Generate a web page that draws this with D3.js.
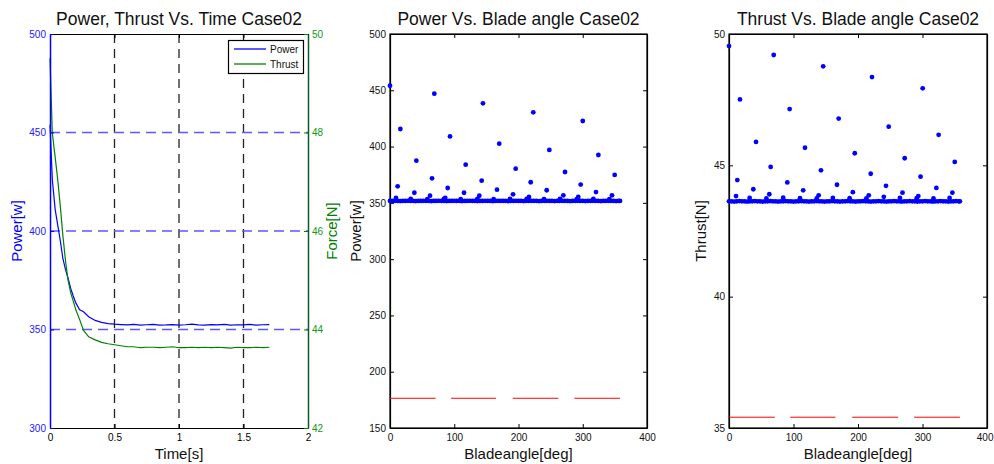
<!DOCTYPE html>
<html><head><meta charset="utf-8">
<script src="https://cdn.jsdelivr.net/npm/d3@7"></script>
<style>body{margin:0;background:#fff} svg{display:block} text{font-family:"Liberation Sans",Arial,Helvetica,sans-serif}</style>
</head><body><svg id="c" width="994" height="464"></svg>
<script>
// ---------- Panel 1 data (time series) ----------
const timeS   = [0,0.018,0.04,0.06,0.08,0.1,0.12,0.14,0.16,0.18,0.2,0.23,0.26,0.3,0.35,0.4,0.45,0.5,0.55,0.6,0.65,0.7,0.75,0.8,0.85,0.9,0.95,1.0,1.05,1.1,1.15,1.2,1.25,1.3,1.35,1.4,1.45,1.5,1.55,1.6,1.65,1.7];
const powerW  = [454,426,411,403,395,386,380.5,376,371,367,363.5,360,359,356.5,354.6,353.6,353,352.7,352.5,352.3,352.6,352.2,352.4,352.6,352.2,352.3,352.5,352.2,352.4,352.7,352.3,352.2,352.5,352.3,352.6,352.2,352.4,352.3,352.6,352.2,352.4,352.5];
const thrustN = [49.51,47.99,47.5,47.04,46.5,45.9,45.4,45.0,44.75,44.58,44.4,44.2,43.98,43.85,43.79,43.74,43.71,43.69,43.67,43.65,43.65,43.63,43.64,43.64,43.63,43.64,43.65,43.63,43.63,43.64,43.63,43.64,43.63,43.64,43.63,43.62,43.64,43.63,43.63,43.64,43.63,43.64];
const timeTicks  = [0,0.5,1,1.5,2];
const powerTicks = [300,350,400,450,500];
const forceTicks = [42,44,46,48,50];
const legendLabels = ["Power","Thrust"];

// ---------- Panel 2/3 data (blade angle scatter) ----------
const powerSpikeAngles = [0,16.1,41,11.9,9.3,37.9, 69,93.4,117.8,65.4,89.8,115.2,62.3,86, 144.7,170,195.6,142.7,166.5,191.5,139, 223,248,272.4,219,243.9,269.8,216.3, 300,324.3,349.7,296.8,320.6,345.5,293, 32.2,58.1,84,110,136,161.3,186.8,212.7,239.7,264.6,290.6,316.5,341.4];
const powerSpikeValues = [454.1,415.6,387.5,364.7,354.3,359, 447,409,383.9,371.8,363.2,359,356.4,354.3, 438.4,402.6,380.4,369.7,361.7,357.6,356.4, 430.4,397,377.4,368.3,361.2,356.7,355.2, 422.7,392.5,374.8,366.2,359.6,356.7,355.2, 353.5,353.4,353.6,353.3,353.5,353.4,353.6,353.5,353.4,353.6,353.3,353.5,353.4];
const thrustSpikeAngles = [0,17,41.9,12.9,10.9,37.7, 69.3,94,117.8,64.6,90.4,62.5,115, 146,170,195,142.6,167.4,139,192, 221.7,247.6,272.4,219.7,243.4,216.7, 300.3,325,350,297,321.5,346.3,269,293.5,240, 32,58,84,110,136,161,187,213,265,291,317,342];
const thrustSpikeValues = [49.54,47.51,45.89,44.44,43.83,44.09, 49.2,47.14,45.67,44.94,44.35,43.9,44.05, 48.77,46.78,45.46,44.81,44.26,43.86,43.98, 48.36,46.47,45.27,44.68,44.22,43.86, 47.93,46.16,45.13,44.57,44.14,43.96,43.96,43.83,43.8, 43.76,43.74,43.77,43.75,43.74,43.76,43.75,43.74,43.76,43.75,43.74,43.76];
const baseAngles = [0,4,8,12,16,20,24,28,32,36,40,44,48,52,56,60,64,68,72,76,80,84,88,92,96,100,104,108,112,116,120,124,128,132,136,140,144,148,152,156,160,164,168,172,176,180,184,188,192,196,200,204,208,212,216,220,224,228,232,236,240,244,248,252,256,260,264,268,272,276,280,284,288,292,296,300,304,308,312,316,320,324,328,332,336,340,344,348,352,356,358];
const powerBase  = [351.7,351.7,351.8,351.7,351.6,351.7,351.7,351.8,351.7,351.7,351.6,351.7,351.7,351.8,351.7,351.7,351.6,351.7,351.7,351.8,351.7,351.7,351.6,351.7,351.7,351.8,351.7,351.7,351.6,351.7,351.7,351.8,351.7,351.7,351.6,351.7,351.7,351.8,351.7,351.7,351.6,351.7,351.7,351.8,351.7,351.7,351.6,351.7,351.7,351.8,351.7,351.7,351.6,351.7,351.7,351.8,351.7,351.7,351.6,351.7,351.7,351.8,351.7,351.7,351.6,351.7,351.7,351.8,351.7,351.7,351.6,351.7,351.7,351.8,351.7,351.7,351.6,351.7,351.7,351.8,351.7,351.7,351.6,351.7,351.7,351.8,351.7,351.7,351.6,351.7,351.7];
const thrustBase = [43.63,43.63,43.62,43.63,43.64,43.63,43.63,43.62,43.63,43.63,43.64,43.63,43.63,43.62,43.63,43.63,43.64,43.63,43.63,43.62,43.63,43.63,43.64,43.63,43.63,43.62,43.63,43.63,43.64,43.63,43.63,43.62,43.63,43.63,43.64,43.63,43.63,43.62,43.63,43.63,43.64,43.63,43.63,43.62,43.63,43.63,43.64,43.63,43.63,43.62,43.63,43.63,43.64,43.63,43.63,43.62,43.63,43.63,43.64,43.63,43.63,43.62,43.63,43.63,43.64,43.63,43.63,43.62,43.63,43.63,43.64,43.63,43.63,43.62,43.63,43.63,43.64,43.63,43.63,43.62,43.63,43.63,43.64,43.63,43.63,43.62,43.63,43.63,43.64,43.63,43.63];
const refSegStart = [0,95,191,287];
const refSegEnd   = [71,165,262,358];
const powerRef  = 176.4;
const thrustRef = 35.41;
const angleTicks = [0,100,200,300,400];
const powerTicks2 = [150,200,250,300,350,400,450,500];
const thrustTicks = [35,40,45,50];

// ---------- drawing ----------
const svg = d3.select("#c");
const yTop = 34, yBot = 428;
const BLUE = "#0000ff", GREEN = "#008000", TICKLEN = 4;
const FONT = 10;

function title(cx, txt){
  svg.append("text").attr("x",cx).attr("y",25).attr("text-anchor","middle")
     .attr("font-size",17.5).attr("fill","#111").text(txt);
}
function xlabel(cx, txt){
  svg.append("text").attr("x",cx).attr("y",459).attr("text-anchor","middle")
     .attr("font-size",15).attr("fill","#111").text(txt);
}
function ylabel(cx, txt, col){
  svg.append("text").attr("transform",`translate(${cx},${(yTop+yBot)/2}) rotate(-90)`)
     .attr("text-anchor","middle").attr("dy","0.35em").attr("font-size",15).attr("fill",col).text(txt);
}

// Panel 1
{
  const x = d3.scaleLinear().domain([0,2]).range([50,308]);
  const yP = d3.scaleLinear().domain([300,500]).range([yBot,yTop]);
  const yF = d3.scaleLinear().domain([42,50]).range([yBot,yTop]);
  const g = svg.append("g");
  g.selectAll("line.vg").data(timeTicks.slice(1,-1)).join("line").attr("class","vg")
   .attr("x1",d=>x(d)).attr("x2",d=>x(d)).attr("y1",yTop).attr("y2",yBot)
   .attr("stroke","#222").attr("stroke-width",1.3).attr("stroke-dasharray","9,6");
  g.selectAll("line.hg").data(powerTicks.slice(1,-1)).join("line").attr("class","hg")
   .attr("x1",x(0)).attr("x2",x(2)).attr("y1",d=>yP(d)).attr("y2",d=>yP(d))
   .attr("stroke","#5a5aff").attr("stroke-width",1.5).attr("stroke-dasharray","10,6");
  const lp = d3.line().x((d,i)=>x(timeS[i])).y(d=>yP(d));
  const lf = d3.line().x((d,i)=>x(timeS[i])).y(d=>yF(d));
  g.append("path").attr("d",lp(powerW)).attr("fill","none").attr("stroke",BLUE).attr("stroke-width",1.2);
  g.append("path").attr("d",lf(thrustN)).attr("fill","none").attr("stroke",GREEN).attr("stroke-width",1.2);
  const ax = g.append("g").attr("transform",`translate(0,${yBot})`)
    .call(d3.axisBottom(x).tickValues(timeTicks).tickSizeInner(-TICKLEN).tickSizeOuter(0).tickPadding(6).tickFormat(d=>d));
  ax.select(".domain").attr("stroke","#000").attr("stroke-width",1.2);
  ax.selectAll(".tick line").attr("stroke","#000");
  ax.selectAll("text").attr("font-size",FONT).attr("fill","#000").attr("font-family",null);
  const axT = g.append("g").attr("transform",`translate(0,${yTop})`)
    .call(d3.axisTop(x).tickValues(timeTicks).tickSizeInner(-TICKLEN).tickSizeOuter(0).tickFormat(""));
  axT.select(".domain").attr("stroke","#000").attr("stroke-width",1.2);
  const ayL = g.append("g").attr("transform",`translate(50,0)`)
    .call(d3.axisLeft(yP).tickValues(powerTicks).tickSizeInner(-TICKLEN).tickSizeOuter(0).tickPadding(4));
  ayL.select(".domain").attr("stroke",BLUE).attr("stroke-width",1.5);
  ayL.selectAll(".tick line").attr("stroke",BLUE);
  ayL.selectAll("text").attr("font-size",FONT).attr("fill","#2020ff").attr("font-family",null);
  const ayR = g.append("g").attr("transform",`translate(308,0)`)
    .call(d3.axisRight(yF).tickValues(forceTicks).tickSizeInner(-TICKLEN).tickSizeOuter(0).tickPadding(4));
  ayR.select(".domain").attr("stroke","#0b5a2a").attr("stroke-width",1.5);
  ayR.selectAll(".tick line").attr("stroke",GREEN);
  ayR.selectAll("text").attr("font-size",FONT).attr("fill","#119911").attr("font-family",null);
  const lg = g.append("g");
  lg.append("rect").attr("x",228.5).attr("y",40.5).attr("width",75).attr("height",33)
    .attr("fill","#fff").attr("stroke","#000").attr("stroke-width",1.2);
  [BLUE,GREEN].forEach((c,i)=>{
    lg.append("line").attr("x1",234).attr("x2",266).attr("y1",49+i*15).attr("y2",49+i*15)
      .attr("stroke",c).attr("stroke-width",1.3);
    lg.append("text").attr("x",270).attr("y",53+i*15).attr("font-size",FONT).attr("fill","#111").text(legendLabels[i]);
  });
  title(179,"Power, Thrust Vs. Time Case02");
  xlabel(179,"Time[s]");
  ylabel(17,"Power[w]",BLUE);
  ylabel(332,"Force[N]",GREEN);
}

function scatterPanel(x0,x1,yDomain,yTicks,spA,spV,baseV,refV,ttl,yl,ylx,clampLast){
  const x = d3.scaleLinear().domain([0,400]).range([x0,x1]);
  const y = d3.scaleLinear().domain(yDomain).range([yBot,yTop]);
  const g = svg.append("g");
  g.append("rect").attr("x",x0).attr("y",yTop).attr("width",x1-x0).attr("height",yBot-yTop)
   .attr("fill","none").attr("stroke","#000").attr("stroke-width",1.2);
  const ax = g.append("g").attr("transform",`translate(0,${yBot})`)
    .call(d3.axisBottom(x).tickValues(angleTicks).tickSizeInner(-TICKLEN).tickSizeOuter(0).tickPadding(6));
  const axT = g.append("g").attr("transform",`translate(0,${yTop})`)
    .call(d3.axisTop(x).tickValues(angleTicks).tickSizeInner(-TICKLEN).tickSizeOuter(0).tickFormat(""));
  const ay = g.append("g").attr("transform",`translate(${x0},0)`)
    .call(d3.axisLeft(y).tickValues(yTicks).tickSizeInner(-TICKLEN).tickSizeOuter(0).tickPadding(4));
  const ayR = g.append("g").attr("transform",`translate(${x1},0)`)
    .call(d3.axisRight(y).tickValues(yTicks).tickSizeInner(-TICKLEN).tickSizeOuter(0).tickFormat(""));
  [ax,axT,ay,ayR].forEach(a=>{
    a.select(".domain").attr("stroke","#000").attr("stroke-width",1.2);
    a.selectAll("text").attr("font-size",FONT).attr("fill","#111").attr("font-family",null);
  });
  if (clampLast) {
    ax.selectAll(".tick").filter(d=>d===400).select("text")
      .attr("text-anchor","end").attr("x",993-x1);
  }
  g.selectAll("line.ref").data(refSegStart).join("line").attr("class","ref")
   .attr("x1",d=>x(d)).attr("x2",(d,i)=>x(refSegEnd[i]))
   .attr("y1",y(refV)).attr("y2",y(refV)).attr("stroke","#ff0000").attr("stroke-width",1);
  g.selectAll("circle.b").data(baseAngles).join("circle").attr("class","b")
   .attr("cx",d=>x(d)).attr("cy",(d,i)=>y(baseV[i])).attr("r",2.4).attr("fill",BLUE);
  g.selectAll("circle.s").data(spA).join("circle").attr("class","s")
   .attr("cx",d=>x(d)).attr("cy",(d,i)=>y(spV[i])).attr("r",2.4).attr("fill",BLUE);
  title((x0+x1)/2,ttl);
  xlabel((x0+x1)/2,"Bladeangle[deg]");
  ylabel(ylx,yl,"#111");
}
scatterPanel(390,647,[150,500],powerTicks2,powerSpikeAngles,powerSpikeValues,powerBase,powerRef,"Power Vs. Blade angle Case02","Power[w]",356,false);
scatterPanel(729,987,[35,50],thrustTicks,thrustSpikeAngles,thrustSpikeValues,thrustBase,thrustRef,"Thrust Vs. Blade angle Case02","Thrust[N]",701,true);
</script></body></html>
